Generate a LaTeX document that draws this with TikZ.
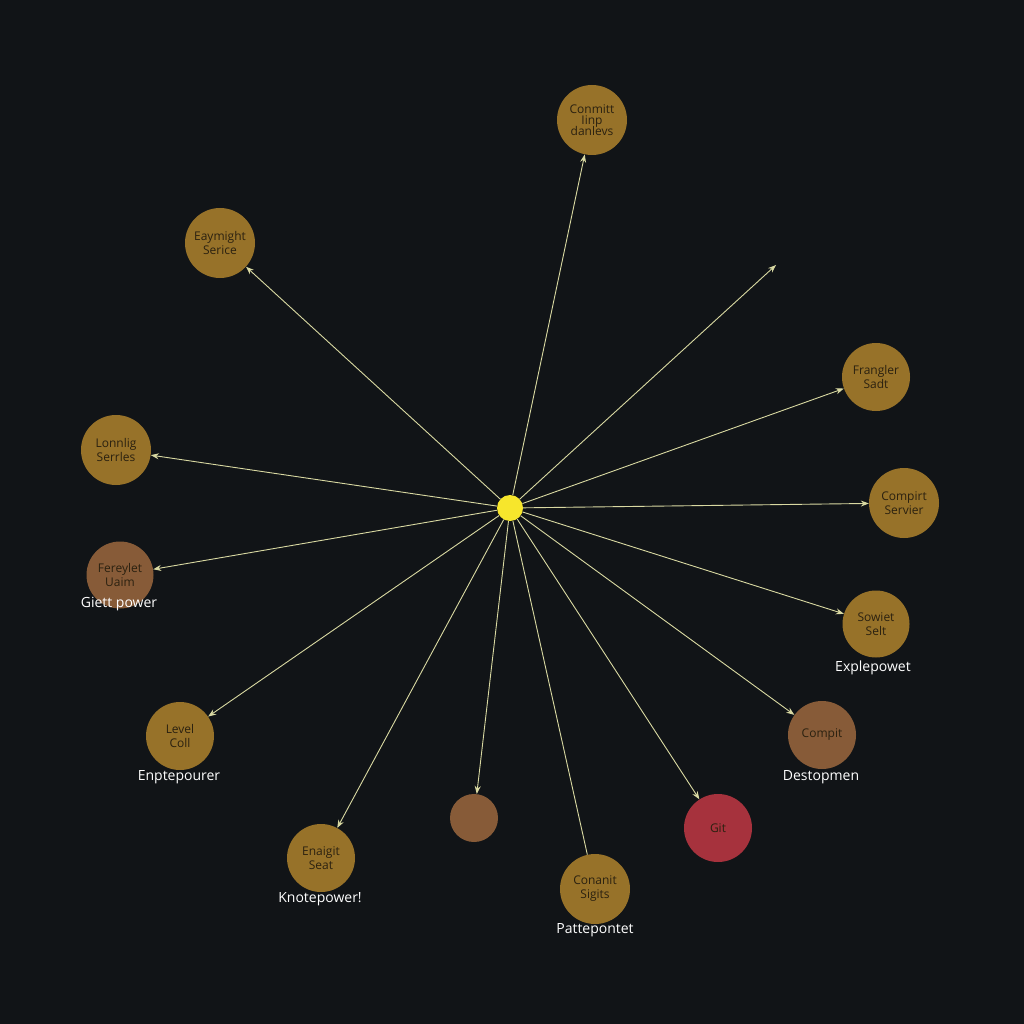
\documentclass[tikz,border=0pt]{standalone}
\usepackage{fontspec}
\setmainfont{Open Sans}
\usetikzlibrary{arrows.meta}
\definecolor{bg}{HTML}{111417}
\definecolor{gold}{HTML}{977229}
\definecolor{brownc}{HTML}{875B38}
\definecolor{redc}{HTML}{A6323D}
\definecolor{hub}{HTML}{F7E62C}
\definecolor{edge}{HTML}{D9D9A2}
\definecolor{intext}{HTML}{2B2110}
\tikzset{
  leaf/.style={circle,fill=gold,minimum size=70pt,inner sep=0pt,align=center,font=\fontsize{12}{14}\selectfont,text=intext},
  bleaf/.style={leaf,fill=brownc},
  rleaf/.style={leaf,fill=redc},
  lab/.style={text=white,font=\fontsize{14}{16}\selectfont},
  link/.style={draw=edge,line width=0.9pt,-{Stealth[length=8pt,width=6pt]}},
  plain/.style={draw=edge,line width=0.9pt}
}
\begin{document}
\begin{tikzpicture}[x=1pt,y=-1pt]
\fill[bg] (0,0) rectangle (1024,1024);
\useasboundingbox (0,0) rectangle (1024,1024);
\node[circle,fill=hub,minimum size=26pt,inner sep=0pt] (c) at (510,508) {};
\node[leaf] (n1) at (592,120) {Conmitt\\[-3pt]Iinp\\[-3pt]danlevs};
\node[leaf] (n2) at (220,243) {Eaymight\\Serice};
\node[leaf] (n3) at (116,450) {Lonnlig\\Serrles};
\node[bleaf,minimum size=67pt] (n4) at (120,575) {Fereylet\\Uaim};
\node[lab] (l4) at (119,604) {Giett power};
\node[leaf,minimum size=68pt] (n5) at (180,736) {Level\\Coll};
\node[lab] (l5) at (179,777) {Enptepourer};
\node[leaf,minimum size=68pt] (n6) at (321,858) {Enaigit\\Seat};
\node[lab] (l6) at (320,899) {Knotepower!};
\node[bleaf,minimum size=48pt] (n7) at (474,818) {};
\node[leaf] (n8) at (595,889) {Conanit\\Sigits};
\node[lab] (l8) at (595,930) {Pattepontet};
\node[rleaf,minimum size=68pt] (n9) at (718,828) {Git};
\node[bleaf,minimum size=68pt] (n10) at (822,735) {Compit};
\node[lab] (l10) at (821,777) {Destopmen};
\node[leaf,minimum size=67pt] (n11) at (876,624) {Sowiet\\Selt};
\node[lab] (l11) at (873,668) {Explepowet};
\node[leaf,minimum size=68pt] (n12) at (876,377) {Frangler\\Sadt};
\node[leaf] (n13) at (904,503) {Compirt\\Servier};
\coordinate (free) at (776,265);
\foreach \n in {n1,n2,n3,n4,n5,n6,n7,n9,n10,n11,n12,n13}{
  \draw[link] (c) -- (\n);
}
\draw[plain] (c) -- (n8);
\draw[link] (c) -- (free);
\end{tikzpicture}
\end{document}
